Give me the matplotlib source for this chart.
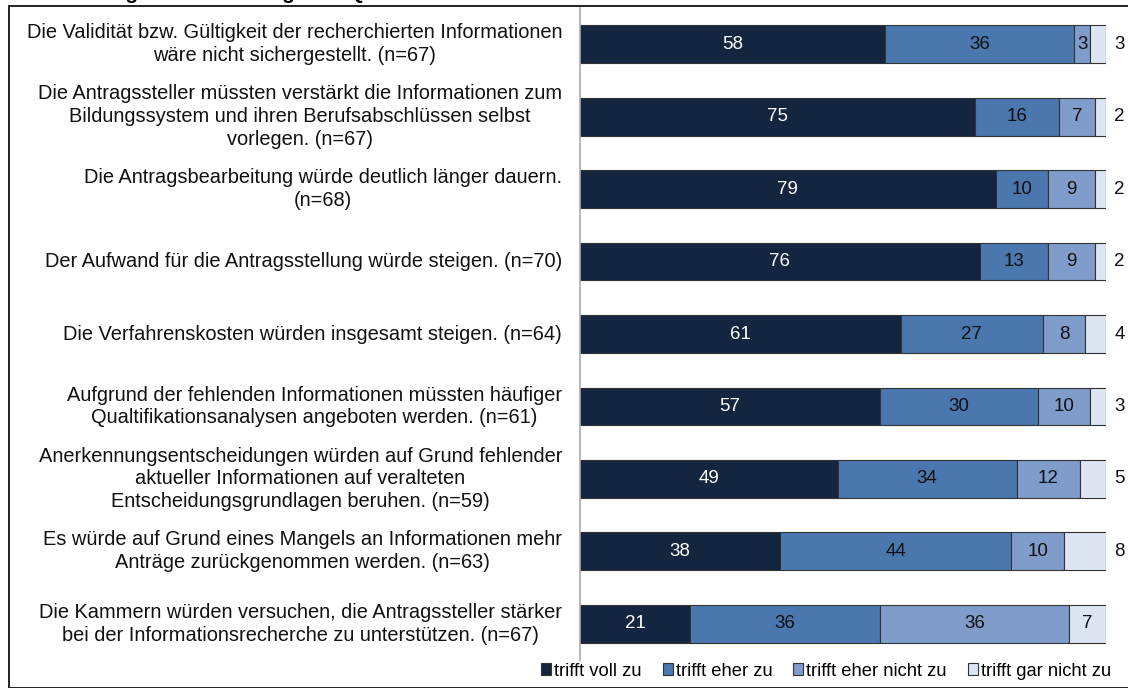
import matplotlib.pyplot as plt
from matplotlib.patches import Rectangle

plt.rcParams['font.family'] = ['Liberation Sans', 'DejaVu Sans']

# statements (top to bottom)
labels = [
    "Die Validität bzw. Gültigkeit der recherchierten Informationen\nwäre nicht sichergestellt. (n=67)",
    "Die Antragssteller müssten verstärkt die Informationen zum\nBildungssystem und ihren Berufsabschlüssen selbst\nvorlegen. (n=67)",
    "Die Antragsbearbeitung würde deutlich länger dauern.\n(n=68)",
    "Der Aufwand für die Antragsstellung würde steigen. (n=70)",
    "Die Verfahrenskosten würden insgesamt steigen. (n=64)",
    "Aufgrund der fehlenden Informationen müssten häufiger\nQualtifikationsanalysen angeboten werden. (n=61)",
    "Anerkennungsentscheidungen würden auf Grund fehlender\naktueller Informationen auf veralteten\nEntscheidungsgrundlagen beruhen. (n=59)",
    "Es würde auf Grund eines Mangels an Informationen mehr\nAnträge zurückgenommen werden. (n=63)",
    "Die Kammern würden versuchen, die Antragssteller stärker\nbei der Informationsrecherche zu unterstützen. (n=67)",
]
voll = [58, 75, 79, 76, 61, 57, 49, 38, 21]
eher = [36, 16, 10, 13, 27, 30, 34, 44, 36]
eher_nicht = [3, 7, 9, 9, 8, 10, 12, 10, 36]
gar_nicht = [3, 2, 2, 2, 4, 3, 5, 8, 7]

series = [voll, eher, eher_nicht, gar_nicht]
names = ["trifft voll zu", "trifft eher zu", "trifft eher nicht zu", "trifft gar nicht zu"]
colors = ["#13253f", "#4a77ae", "#7f9ccb", "#dce5f2"]
text_colors = ["white", "#111111", "#111111", "#111111"]

fig = plt.figure(figsize=(11.28, 6.88), dpi=100)
ax = fig.add_axes([580 / 1128, 28 / 688, 526 / 1128, 652 / 688])

n = len(labels)
ypos = list(range(n))
left = [0] * n
for k, (vals, col) in enumerate(zip(series, colors)):
    ax.barh(ypos, vals, left=left, height=0.52, color=col,
            edgecolor="#333333", linewidth=0.8, label=names[k])
    for i, v in enumerate(vals):
        if k == 3 and i != n - 1:
            ax.text(101.6, i, str(v), ha="left", va="center", fontsize=13.5,
                    color="#111111", clip_on=False)
        else:
            ax.text(left[i] + v / 2, i, str(v), ha="center", va="center",
                    fontsize=13.5, color=text_colors[k])
    left = [a + b for a, b in zip(left, vals)]

ax.set_xlim(0, 100)
ax.set_ylim(n - 0.5, -0.5)
ax.set_xticks([])
ax.set_yticks([])
for s in ["top", "right", "bottom"]:
    ax.spines[s].set_visible(False)
ax.spines["left"].set_color("#aaaaaa")
ax.spines["left"].set_linewidth(1.2)

for i, lab in enumerate(labels):
    ax.text(-3.4, i, lab, ha="right", va="center", multialignment="center",
            fontsize=14.4, color="#111111", clip_on=False, linespacing=1.25)

fig.legend(loc="center", bbox_to_anchor=(826 / 1128, 1 - 671 / 688), ncol=4,
           frameon=False, fontsize=13.2, handlelength=0.55, handleheight=0.55,
           handletextpad=0.15, columnspacing=1.15, borderaxespad=0)

# frame around the chart and clipped heading above it
fig.patches.append(Rectangle((9 / 1128, 0), 1.2, 1 - 6 / 688, transform=fig.transFigure,
                             fill=False, edgecolor="#222222", linewidth=1.4))
fig.text(30 / 1128, 1 + 1 / 688, "Bewertung der Einstellung des IQ-Portals",
         fontsize=15, fontweight="bold", ha="left", va="baseline")

fig.savefig("out.png", dpi=100)
